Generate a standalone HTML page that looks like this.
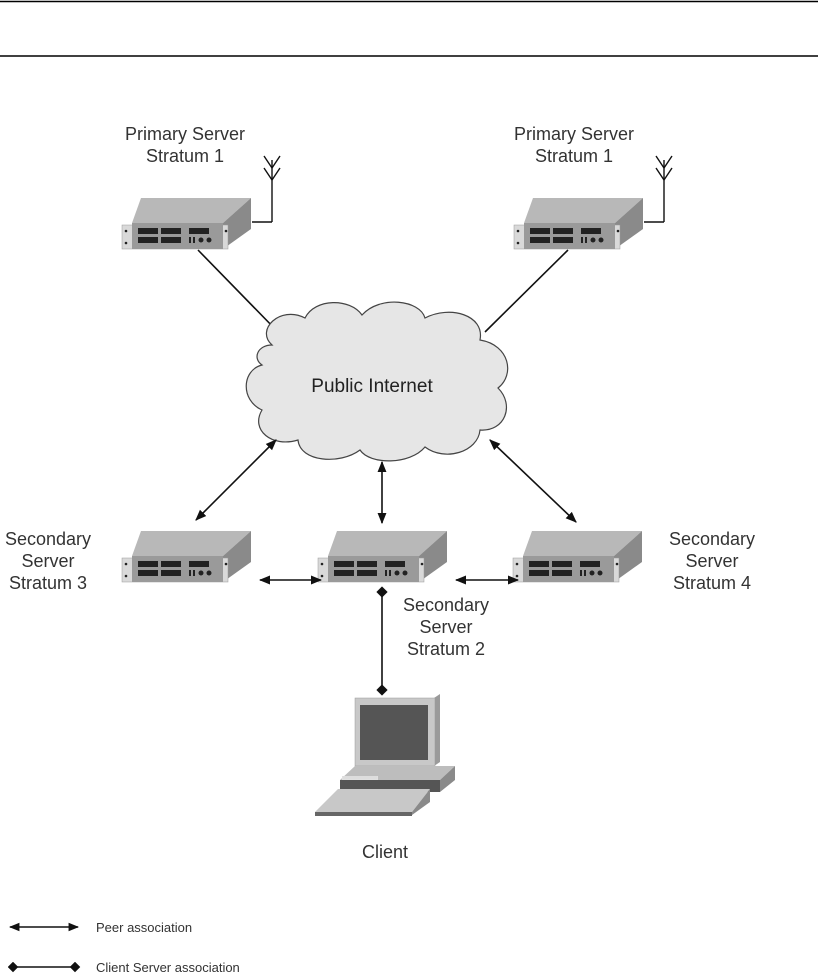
<!DOCTYPE html>
<html><head><meta charset="utf-8"><style>
body{margin:0;background:#fff;}
svg{display:block;font-family:"Liberation Sans",Arial,sans-serif;}
</style></head><body>
<svg width="818" height="978" viewBox="0 0 818 978" xmlns="http://www.w3.org/2000/svg">
<defs>
<marker id="ah" viewBox="0 0 10 10" refX="9" refY="5" markerWidth="7" markerHeight="7" orient="auto-start-reverse"><path d="M0,1 L10,5 L0,9 z" fill="#111"/></marker>
<marker id="dm" viewBox="0 0 10 10" refX="5" refY="5" markerWidth="7" markerHeight="7" orient="auto"><path d="M0,5 L5,0 L10,5 L5,10 z" fill="#111"/></marker>
<g id="srv">
<polygon points="10,0 19,-25 129,-25 101,0" fill="#b8b8b8"/>
<polygon points="101,0 129,-25 129,6 101,26" fill="#8a8a8a"/>
<rect x="0" y="2" width="106" height="24" fill="#d9d9d9" stroke="#999" stroke-width="0.5"/>
<rect x="10" y="0" width="91" height="26" fill="#9a9a9a"/>
<rect x="16" y="5" width="20" height="6" fill="#222"/><rect x="39" y="5" width="20" height="6" fill="#222"/><rect x="67" y="5" width="20" height="6" fill="#222"/>
<rect x="16" y="14" width="20" height="6" fill="#222"/><rect x="39" y="14" width="20" height="6" fill="#222"/>
<rect x="67" y="14" width="2" height="6" fill="#222"/><rect x="71" y="14" width="2" height="6" fill="#222"/>
<circle cx="79" cy="17" r="2.5" fill="#222"/><circle cx="87" cy="17" r="2.5" fill="#222"/>
<circle cx="4" cy="8" r="1.3" fill="#222"/><circle cx="4" cy="20" r="1.3" fill="#222"/>
<circle cx="104" cy="8" r="1.3" fill="#222" transform="translate(0,0)"/>
</g>
</defs>
<line x1="0" y1="1.5" x2="818" y2="1.5" stroke="#000" stroke-width="1.5"/>
<line x1="0" y1="56" x2="818" y2="56" stroke="#000" stroke-width="1.5"/>

<!-- connectors to primaries -->
<line x1="198" y1="250" x2="278" y2="332" stroke="#111" stroke-width="1.6"/>
<line x1="568" y1="250" x2="485" y2="332" stroke="#111" stroke-width="1.6"/>
<line x1="252" y1="222" x2="272" y2="222" stroke="#111" stroke-width="1.4"/>
<line x1="272" y1="222" x2="272" y2="160" stroke="#111" stroke-width="1.4"/>
<path d="M264,156 L272,168 L280,156 M264,168 L272,180 L280,168" fill="none" stroke="#111" stroke-width="1.4"/>
<line x1="644" y1="222" x2="664" y2="222" stroke="#111" stroke-width="1.4"/>
<line x1="664" y1="222" x2="664" y2="160" stroke="#111" stroke-width="1.4"/>
<path d="M656,156 L664,168 L672,156 M656,168 L664,180 L672,168" fill="none" stroke="#111" stroke-width="1.4"/>

<use href="#srv" x="122" y="223"/>
<use href="#srv" x="514" y="223"/>
<use href="#srv" x="122" y="556"/>
<use href="#srv" x="318" y="556"/>
<use href="#srv" x="513" y="556"/>

<text x="185" y="140" font-size="18" text-anchor="middle" fill="#333">Primary Server</text>
<text x="185" y="162" font-size="18" text-anchor="middle" fill="#333">Stratum 1</text>
<text x="574" y="140" font-size="18" text-anchor="middle" fill="#333">Primary Server</text>
<text x="574" y="162" font-size="18" text-anchor="middle" fill="#333">Stratum 1</text>

<!-- cloud -->
<path d="M272,345 C255,330 280,305 305,318 C315,298 350,298 362,315 C380,295 420,300 425,318 C450,305 485,315 480,340 C510,345 515,375 498,388 C515,405 505,432 480,430 C478,452 445,462 425,447 C410,465 370,465 360,450 C340,465 300,462 298,440 C272,448 250,430 262,410 C240,400 242,370 262,365 C252,358 258,345 272,345 Z" fill="#e6e6e6" stroke="#444" stroke-width="1.2"/>
<text x="372" y="392" font-size="19" text-anchor="middle" fill="#222">Public Internet</text>

<!-- peer arrows -->
<line x1="276" y1="440" x2="196" y2="520" stroke="#111" stroke-width="1.6" marker-start="url(#ah)" marker-end="url(#ah)"/>
<line x1="382" y1="462" x2="382" y2="523" stroke="#111" stroke-width="1.6" marker-start="url(#ah)" marker-end="url(#ah)"/>
<line x1="490" y1="440" x2="576" y2="522" stroke="#111" stroke-width="1.6" marker-start="url(#ah)" marker-end="url(#ah)"/>
<line x1="260" y1="580" x2="321" y2="580" stroke="#111" stroke-width="1.6" marker-start="url(#ah)" marker-end="url(#ah)"/>
<line x1="456" y1="580" x2="518" y2="580" stroke="#111" stroke-width="1.6" marker-start="url(#ah)" marker-end="url(#ah)"/>
<line x1="382" y1="592" x2="382" y2="690" stroke="#111" stroke-width="1.6" marker-start="url(#dm)" marker-end="url(#dm)"/>

<text x="48" y="545" font-size="18" text-anchor="middle" fill="#333">Secondary</text>
<text x="48" y="567" font-size="18" text-anchor="middle" fill="#333">Server</text>
<text x="48" y="589" font-size="18" text-anchor="middle" fill="#333">Stratum 3</text>
<text x="712" y="545" font-size="18" text-anchor="middle" fill="#333">Secondary</text>
<text x="712" y="567" font-size="18" text-anchor="middle" fill="#333">Server</text>
<text x="712" y="589" font-size="18" text-anchor="middle" fill="#333">Stratum 4</text>
<text x="446" y="611" font-size="18" text-anchor="middle" fill="#333">Secondary</text>
<text x="446" y="633" font-size="18" text-anchor="middle" fill="#333">Server</text>
<text x="446" y="655" font-size="18" text-anchor="middle" fill="#333">Stratum 2</text>

<!-- laptop -->
<polygon points="434,698 440,694 440,762 434,766" fill="#9a9a9a"/>
<rect x="355" y="698" width="80" height="68" fill="#c8c8c8" stroke="#999" stroke-width="0.5"/>
<rect x="360" y="705" width="68" height="55" fill="#555"/>
<polygon points="340,780 355,766 455,766 440,780" fill="#bdbdbd"/>
<polygon points="440,780 455,766 455,780 440,792" fill="#8a8a8a"/>
<rect x="340" y="780" width="100" height="12" fill="#555"/>
<rect x="342" y="776" width="36" height="4" fill="#e0e0e0"/>
<rect x="343" y="776" width="34" height="3" fill="#ddd"/>
<polygon points="315,812 338,789 430,789 412,812" fill="#c8c8c8"/>
<polygon points="412,812 430,789 430,802 412,815" fill="#8a8a8a"/>
<rect x="315" y="812" width="97" height="4" fill="#666"/>
<text x="385" y="858" font-size="18" text-anchor="middle" fill="#333">Client</text>

<!-- legend -->
<line x1="10" y1="927" x2="78" y2="927" stroke="#111" stroke-width="1.5" marker-start="url(#ah)" marker-end="url(#ah)"/>
<text x="96" y="932" font-size="13" fill="#333">Peer association</text>
<line x1="13" y1="967" x2="75" y2="967" stroke="#111" stroke-width="1.5" marker-start="url(#dm)" marker-end="url(#dm)"/>
<text x="96" y="972" font-size="13" fill="#333">Client Server association</text>
</svg>
</body></html>
